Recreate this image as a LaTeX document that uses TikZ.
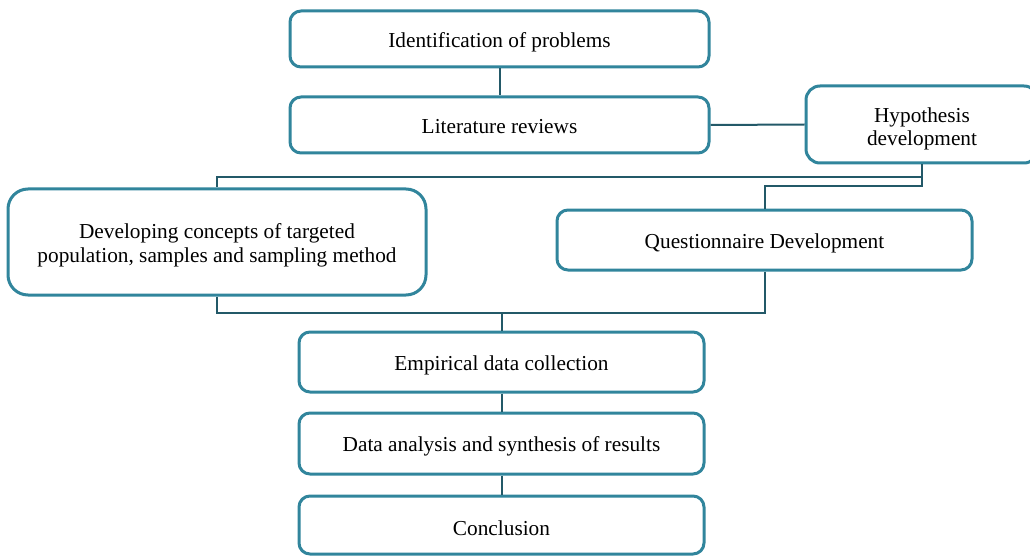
\documentclass[tikz,border=0pt]{standalone}
\usepackage{fontspec}
\setmainfont{Liberation Serif}
\definecolor{boxc}{RGB}{49,133,156}
\definecolor{linec}{RGB}{35,89,104}
\newcommand\boxtext[2]{\raisebox{0pt}[#1pt][0pt]{\begin{tabular}[b]{@{}c@{}}#2\end{tabular}}}
\begin{document}
\begin{tikzpicture}[x=1pt,y=-1pt,
  box/.style={draw=boxc,line width=3pt,rounded corners=11pt,fill=white,inner sep=0pt,
    font=\fontsize{21.3}{23.8}\selectfont},
  conn/.style={draw=linec,line width=2pt}]
\useasboundingbox (0,0) rectangle (1030,556);
\node[box,minimum width=419pt,minimum height=56pt] (b1) at (499.5,39) {\boxtext{17}{Identification of problems}};
\node[box,minimum width=419pt,minimum height=56pt] (b2) at (499.5,125) {\boxtext{17}{Literature reviews}};
\node[box,minimum width=232pt,minimum height=77pt,rounded corners=14pt] (hyp) at (922,124.5) {\boxtext{43}{Hypothesis\\development}};
\node[box,minimum width=418pt,minimum height=106pt,rounded corners=20pt] (dev) at (217,242) {\boxtext{40}{Developing concepts of targeted\\population, samples and sampling method}};
\node[box,minimum width=415pt,minimum height=60pt] (quest) at (764.5,240) {\boxtext{16.6}{Questionnaire Development}};
\node[box,minimum width=405pt,minimum height=60pt] (emp) at (501.5,362) {\boxtext{16}{Empirical data collection}};
\node[box,minimum width=405pt,minimum height=61pt] (data) at (501.5,443.5) {\boxtext{16.4}{Data analysis and synthesis of results}};
\node[box,minimum width=405pt,minimum height=58pt] (concl) at (501.5,525) {\boxtext{21}{Conclusion}};
\coordinate (j1) at (922,177);
\coordinate (j2) at (922,186);
\coordinate (m) at (501.5,313);
\draw[conn] (b1.south) -- (b2.north);
\draw[conn] (b2.east) -- (hyp.west);
\draw[conn] (hyp.south) -- (j1) -| (dev.north);
\draw[conn] (j1) -- (j2) -| (quest.north);
\draw[conn] (dev.south) |- (m);
\draw[conn] (quest.south) |- (m);
\draw[conn] (m) -- (emp.north);
\draw[conn] (emp.south) -- (data.north);
\draw[conn] (data.south) -- (concl.north);
\end{tikzpicture}
\end{document}
